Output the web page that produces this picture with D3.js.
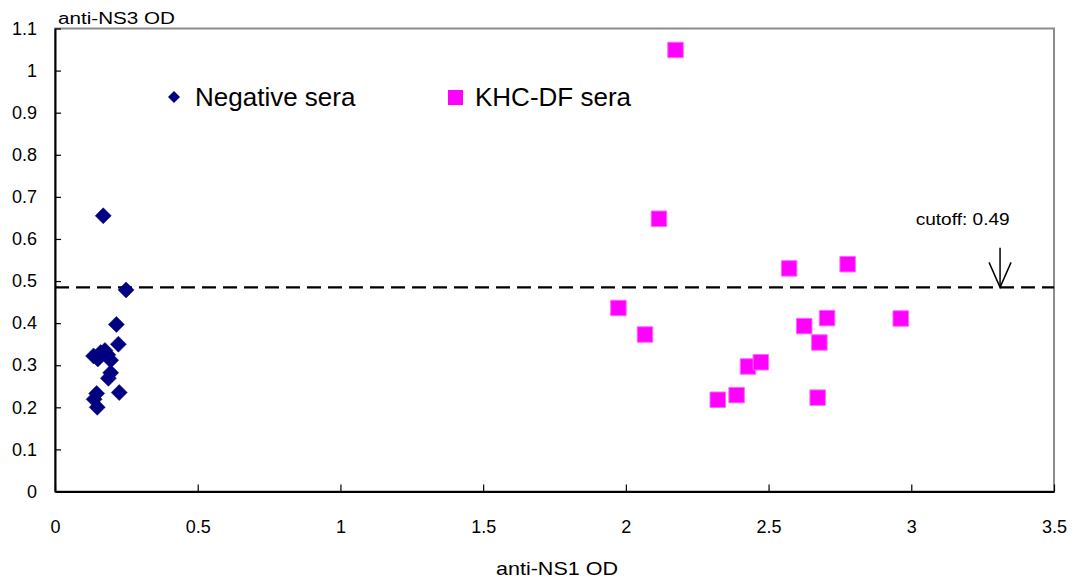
<!DOCTYPE html>
<html>
<head>
<meta charset="utf-8">
<script src="https://cdnjs.cloudflare.com/ajax/libs/d3/7.8.5/d3.min.js"></script>
<style>
  body { margin: 0; background: #fff; }
  text { font-family: "Liberation Sans", Arial, sans-serif; }
</style>
</head>
<body>
<div id="chart"></div>
<script>
// data
var negX = [0.169, 0.249, 0.215, 0.222, 0.135, 0.150, 0.160, 0.175, 0.185, 0.195, 0.195, 0.187, 0.225, 0.146, 0.137, 0.148];
var negY = [0.655, 0.479, 0.397, 0.350, 0.322, 0.315, 0.330, 0.335, 0.325, 0.312, 0.282, 0.269, 0.235, 0.233, 0.219, 0.200];

var khcX = [2.174, 2.116, 2.572, 2.777, 1.974, 2.067, 2.625, 2.705, 2.963, 2.678, 2.428, 2.473, 2.322, 2.388, 2.672];
var khcY = [1.049, 0.648, 0.530, 0.540, 0.436, 0.373, 0.393, 0.412, 0.411, 0.354, 0.297, 0.307, 0.218, 0.229, 0.223];

var xTicks = [0, 0.5, 1, 1.5, 2, 2.5, 3, 3.5];
var yTicks = [0, 0.1, 0.2, 0.3, 0.4, 0.5, 0.6, 0.7, 0.8, 0.9, 1, 1.1];
var seriesNames = ["Negative sera", "KHC-DF sera"];
var cutoffLine = 0.485;
var cutoffLabel = "cutoff: 0.49";

var W = 1078, H = 581;
var margin = {top: 28.5, right: 24, bottom: 89.5, left: 55};
var width = W - margin.left - margin.right,
    height = H - margin.top - margin.bottom;

var svg = d3.select("#chart").append("svg")
    .attr("width", W)
    .attr("height", H)
    .style("background", "#fff");

var g = svg.append("g")
    .attr("transform", `translate(${margin.left},${margin.top})`);

//scales
var x = d3.scaleLinear().domain([0, 3.5]).range([0, width]);
var y = d3.scaleLinear().domain([0, 1.1]).range([height, 0]);
//scales

// plot area border (grey top/right)
g.append("rect")
    .attr("x", 0).attr("y", 0)
    .attr("width", width).attr("height", height)
    .attr("fill", "none")
    .attr("stroke", "#8c8c8c")
    .attr("stroke-width", 2);

var fmt = d => String(+d.toFixed(1));

// axes
var yAxis = g.append("g")
    .call(d3.axisLeft(y).tickValues(yTicks).tickFormat(fmt)
        .tickSizeInner(-6).tickSizeOuter(0).tickPadding(18));
var xAxis = g.append("g")
    .attr("transform", `translate(0,${height})`)
    .call(d3.axisBottom(x).tickValues(xTicks).tickFormat(fmt)
        .tickSizeInner(-7).tickSizeOuter(0).tickPadding(29));

[xAxis, yAxis].forEach(function(a){
    a.select(".domain").attr("stroke", "#000").attr("stroke-width", 2);
    a.selectAll(".tick line").attr("stroke", "#000").attr("stroke-width", 1.2);
    a.selectAll("text")
        .attr("fill", "#000")
        .style("font-size", "18px")
        .attr("font-family", "Liberation Sans, Arial, sans-serif");
});

// cutoff dashed line
g.append("line")
    .attr("x1", 0).attr("x2", width)
    .attr("y1", y(cutoffLine)).attr("y2", y(cutoffLine))
    .attr("stroke", "#000")
    .attr("stroke-width", 2.2)
    .attr("stroke-dasharray", "14,7");

// arrow + label
var ax = x(3.311);
g.append("line")
    .attr("x1", ax).attr("x2", ax)
    .attr("y1", y(0.579)).attr("y2", y(cutoffLine))
    .attr("stroke", "#000").attr("stroke-width", 1.5);
g.append("path")
    .attr("d", `M${ax - 11},${y(cutoffLine) - 25} L${ax},${y(cutoffLine)} L${ax + 11},${y(cutoffLine) - 25}`)
    .attr("fill", "none").attr("stroke", "#000").attr("stroke-width", 1.5);
g.append("text")
    .text(cutoffLabel)
    .attr("x", x(3.18)).attr("y", y(0.634))
    .attr("text-anchor", "middle")
    .attr("textLength", 94)
    .attr("lengthAdjust", "spacingAndGlyphs")
    .style("font-size", "17px")
    .attr("fill", "#000");

// markers
var diamond = d3.symbol().type(d3.symbolSquare).size(128);
var square = d3.symbol().type(d3.symbolSquare).size(240);

g.selectAll(".khc")
    .data(d3.zip(khcX, khcY))
    .enter().append("path")
    .attr("class", "khc")
    .attr("d", square)
    .attr("transform", d => `translate(${x(d[0])},${y(d[1])})`)
    .attr("fill", "#ff00ff")
    .attr("stroke", "#ff66ff")
    .attr("stroke-width", 1);

g.selectAll(".neg")
    .data(d3.zip(negX, negY))
    .enter().append("path")
    .attr("class", "neg")
    .attr("d", diamond)
    .attr("transform", d => `translate(${x(d[0])},${y(d[1])}) rotate(45)`)
    .attr("fill", "#000080")
    .attr("stroke", "#000080")
    .attr("stroke-width", 0.5);

// legend
var legend = svg.append("g");
legend.append("path")
    .attr("d", d3.symbol().type(d3.symbolSquare).size(72))
    .attr("transform", "translate(174,97) rotate(45)")
    .attr("fill", "#000080");
legend.append("text")
    .text(seriesNames[0])
    .attr("x", 195).attr("y", 106)
    .style("font-size", "26px")
    .attr("fill", "#000");
legend.append("rect")
    .attr("x", 448).attr("y", 90)
    .attr("width", 15).attr("height", 15)
    .attr("fill", "#ff00ff");
legend.append("text")
    .text(seriesNames[1])
    .attr("x", 475).attr("y", 106)
    .style("font-size", "26px")
    .attr("fill", "#000");

// axis titles
svg.append("text")
    .text("anti-NS3 OD")
    .attr("x", 58).attr("y", 24)
    .attr("textLength", 117)
    .attr("lengthAdjust", "spacingAndGlyphs")
    .style("font-size", "16px")
    .attr("fill", "#000");
svg.append("text")
    .text("anti-NS1 OD")
    .attr("x", 557).attr("y", 575)
    .attr("text-anchor", "middle")
    .attr("textLength", 122)
    .attr("lengthAdjust", "spacingAndGlyphs")
    .style("font-size", "19px")
    .attr("fill", "#000");
</script>
</body>
</html>
